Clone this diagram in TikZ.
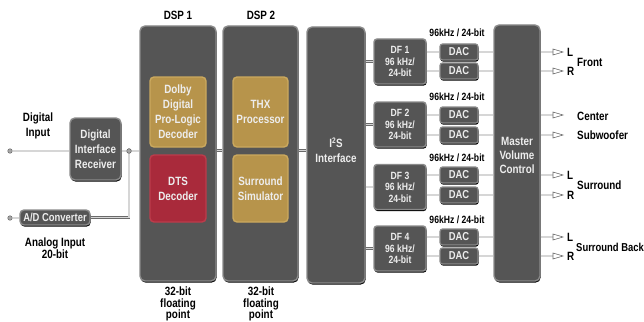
\documentclass[tikz,border=0pt]{standalone}
\usepackage{fontspec}
\setmainfont[FakeStretch=0.82]{Liberation Sans}
\usetikzlibrary{shadows}
\definecolor{boxfill}{HTML}{555555}
\definecolor{boxedge}{HTML}{8A8A8A}
\definecolor{goldfill}{HTML}{B7944B}
\definecolor{goldedge}{HTML}{CBA95E}
\definecolor{redfill}{HTML}{A92A3B}
\definecolor{rededge}{HTML}{BC3C4B}
\definecolor{lineout}{HTML}{6A6A6A}
\definecolor{linein}{HTML}{D6D6D6}
\definecolor{wtext}{HTML}{EDEDED}
\begin{document}
\begin{tikzpicture}[x=1pt,y=-1pt,
  darkbox/.style={draw=boxedge, line width=1.4pt, fill=boxfill, rounded corners=5pt,
    inner sep=0pt, text=wtext, align=center, font=\bfseries\fontsize{12}{15}\selectfont,
    drop shadow={shadow xshift=0.6pt, shadow yshift=-1.6pt, opacity=1, fill=black}},
  smallbox/.style={darkbox, rounded corners=3pt, font=\bfseries\fontsize{10.5}{11.5}\selectfont},
  dacbox/.style={darkbox, rounded corners=2.5pt, line width=1.2pt, font=\bfseries\fontsize{11.5}{13}\selectfont},
  goldbox/.style={draw=goldedge, line width=1.4pt, fill=goldfill, rounded corners=4pt,
    inner sep=0pt, text=wtext, align=center, font=\bfseries\fontsize{12}{15}\selectfont},
  redbox/.style={goldbox, draw=rededge, fill=redfill},
  lbl/.style={inner sep=0pt, align=center, font=\bfseries\fontsize{12}{15}\selectfont},
  slbl/.style={inner sep=0pt, align=center, font=\bfseries\fontsize{10.5}{12}\selectfont},
  wlbl/.style={lbl, text=wtext},
  dl/.style={draw=lineout, line width=0.6pt, double=linein, double distance=1.3pt},
  dot/.style={circle, draw=lineout, fill=gray!70, line width=0.5pt, minimum size=4.5pt, inner sep=0pt},
  tri/.style={draw=lineout, fill=white, line width=0.6pt, line join=miter}
]
\useasboundingbox (0,0) rectangle (644,321);

% ---- left inputs
\node[lbl] (dinlbl) at (38,125.5) {Digital\\Input};
\node[dot] (din) at (10,151) {};
\node[darkbox, minimum width=51pt, minimum height=62pt] (dir) at (95.5,149) {Digital\\Interface\\Receiver};
\node[dot] (jdot) at (129,151) {};
\node[dot] (ain) at (10,218) {};
\node[darkbox, rounded corners=4pt, minimum width=70pt, minimum height=15pt, font=\bfseries\fontsize{11.5}{13}\selectfont] (ad) at (55,217.5) {A/D Converter};
\node[lbl, font=\bfseries\fontsize{12}{12}\selectfont] (ainlbl) at (55,248) {Analog Input\\20-bit};

% ---- DSPs
\node[darkbox, minimum width=76pt, minimum height=255pt] (dsp1) at (178,153.5) {};
\node[darkbox, minimum width=75pt, minimum height=255pt] (dsp2) at (260.5,153.5) {};
\node[lbl] (dsp1lbl) at (178,15) {DSP 1};
\node[lbl] (dsp2lbl) at (261,15) {DSP 2};
\node[goldbox, minimum width=56pt, minimum height=70pt] (dolby) at (178,112) {Dolby\\Digital\\Pro-Logic\\Decoder};
\node[redbox, minimum width=56pt, minimum height=67pt] (dts) at (178,188.5) {DTS\\Decoder};
\node[goldbox, minimum width=55pt, minimum height=70pt] (thx) at (260.5,112) {THX\\Processor};
\node[goldbox, minimum width=55pt, minimum height=67pt] (ssim) at (260.5,188.5) {Surround\\Simulator};
\node[lbl, font=\bfseries\fontsize{12}{11.5}\selectfont, anchor=north] (fp1) at (178,287) {32-bit\\floating\\point};
\node[lbl, font=\bfseries\fontsize{12}{11.5}\selectfont, anchor=north] (fp2) at (261,287) {32-bit\\floating\\point};

% ---- I2S
\node[darkbox, minimum width=58pt, minimum height=256pt] (i2s) at (336,155) {};
\node[wlbl] (i2slbl) at (336,150) {I\textsuperscript{2}S\\Interface};

% ---- Master volume
\node[darkbox, minimum width=46pt, minimum height=256pt] (mvc) at (517,153) {};
\node[wlbl, font=\bfseries\fontsize{12}{14}\selectfont] (mvclbl) at (517,155) {Master\\Volume\\Control};

\coordinate (bus) at (0,150.5);

% ---- connectors left part
\draw[dl] (din) -- (dir.west |- din);
\draw[dl] (dir.east |- jdot) -- (jdot);
\draw[dl] (jdot) -- (dsp1.west |- jdot);
\draw[dl] (jdot) |- (ad.east);
\draw[dl] (ain) -- (ad.west |- ain);
\node[dot] at (jdot) {};
\draw[dl] (dsp1.east |- bus) -- (dsp2.west |- bus);
\draw[dl] (dsp2.east |- bus) -- (i2s.west |- bus);

% ---- DF / DAC groups
\foreach \i/\yc/\ya/\yb/\yl in {1/61.5/52/71/33, 2/124.5/115/135/97, 3/187/175/195/158, 4/248.5/237/256/220}{
  \node[smallbox, minimum width=52pt, minimum height=45pt] (df\i) at (400,\yc) {DF \i\\96 kHz/\\24-bit};
  \node[dacbox, minimum width=38pt, minimum height=16pt] (daca\i) at (459,\ya) {DAC};
  \node[dacbox, minimum width=38pt, minimum height=16pt] (dacb\i) at (459,\yb) {DAC};
  \node[slbl] (rate\i) at (457,\yl) {96kHz / 24-bit};
  \draw[dl] (i2s.east |- df\i.west) -- (df\i.west);
  \draw[dl] (df\i.east |- daca\i) -- (daca\i.west);
  \draw[dl] (df\i.east |- dacb\i) -- (dacb\i.west);
  \draw[dl] (daca\i.east) -- (mvc.west |- daca\i);
  \draw[dl] (dacb\i.east) -- (mvc.west |- dacb\i);
  \coordinate (oa\i) at (553,\ya);
  \coordinate (ob\i) at (553,\yb);
  \draw[dl] (mvc.east |- oa\i) -- (oa\i);
  \draw[dl] (mvc.east |- ob\i) -- (ob\i);
  \draw[tri] (oa\i) ++(0,-3) -- ++(10,3) -- ++(-10,3) -- cycle;
  \draw[tri] (ob\i) ++(0,-3) -- ++(10,3) -- ++(-10,3) -- cycle;
}

% ---- output labels
\foreach \y/\n in {52/1,175/3,237/4}{\node[lbl, anchor=west] (l\n) at (567,\y) {L};}
\foreach \y/\n in {71/1,195/3,256/4}{\node[lbl, anchor=west] (r\n) at (567,\y) {R};}
\node[lbl, anchor=west] (front) at (577,62) {Front};
\node[lbl, anchor=west] (center) at (577,116) {Center};
\node[lbl, anchor=west] (sub) at (577,135) {Subwoofer};
\node[lbl, anchor=west] (surr) at (577,185) {Surround};
\node[lbl, anchor=west, font=\bfseries\fontsize{11.5}{15}\selectfont] (surrb) at (576,247) {Surround Back};
\end{tikzpicture}
\end{document}
